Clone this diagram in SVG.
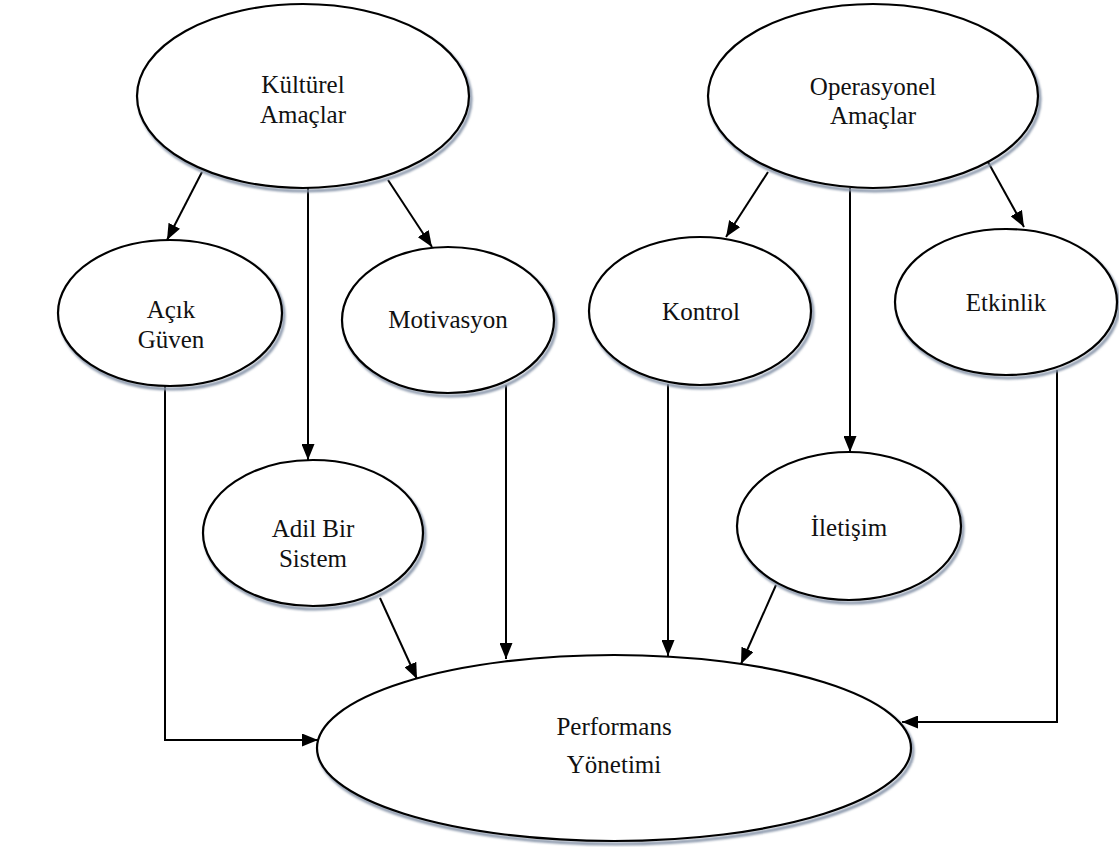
<svg xmlns="http://www.w3.org/2000/svg" width="1119" height="847" viewBox="0 0 1119 847">
  <defs>
    <marker id="arrow" viewBox="0 0 16 13" refX="16" refY="6.5" markerWidth="16" markerHeight="13" markerUnits="userSpaceOnUse" orient="auto">
      <path d="M0,0 L16,6.5 L0,13 Z" fill="#000"/>
    </marker>
    <filter id="soft" x="-10%" y="-10%" width="120%" height="120%">
      <feGaussianBlur stdDeviation="1"/>
    </filter>
  </defs>
  <style>
    .shadow { fill: none; stroke: #8a97ab; stroke-width: 3; filter: url(#soft); }
    .node { fill: #fff; stroke: #000; stroke-width: 2.2; }
    .label { font-family: "Liberation Serif", "Times New Roman", serif; font-size: 25px; fill: #111; text-anchor: middle; }
    .edge { fill: none; stroke: #000; stroke-width: 2; marker-end: url(#arrow); }
  </style>
  <rect width="1119" height="847" fill="#fff"/>

  <!-- connectors -->
  <g id="connectors">
    <line class="edge" x1="202" y1="172" x2="167" y2="240"/>
    <line class="edge" x1="308" y1="188" x2="308" y2="460"/>
    <line class="edge" x1="388" y1="180" x2="432" y2="247"/>
    <line class="edge" x1="768" y1="172" x2="726" y2="237"/>
    <line class="edge" x1="850" y1="188" x2="850" y2="452"/>
    <line class="edge" x1="988" y1="162" x2="1024" y2="227"/>
    <polyline class="edge" points="165,385 165,740 318,740"/>
    <line class="edge" x1="380" y1="598" x2="417" y2="679"/>
    <line class="edge" x1="506" y1="385" x2="506" y2="659"/>
    <line class="edge" x1="668" y1="384" x2="668" y2="656"/>
    <line class="edge" x1="776" y1="585" x2="741" y2="664"/>
    <polyline class="edge" points="1057,370 1057,722 902,722"/>
  </g>

  <g id="kulturel-amaclar">
    <ellipse class="shadow" cx="305" cy="99" rx="166" ry="92"/>
    <ellipse class="node" cx="303" cy="96" rx="166" ry="92"/>
    <text class="label" x="303" y="93">Kültürel</text>
    <text class="label" x="303" y="123">Amaçlar</text>
  </g>

  <g id="operasyonel-amaclar">
    <ellipse class="shadow" cx="875" cy="99" rx="165" ry="92"/>
    <ellipse class="node" cx="873" cy="96" rx="165" ry="92"/>
    <text class="label" x="873" y="95">Operasyonel</text>
    <text class="label" x="873" y="124">Amaçlar</text>
  </g>

  <g id="acik-guven">
    <ellipse class="shadow" cx="172" cy="316" rx="112" ry="73"/>
    <ellipse class="node" cx="170" cy="313" rx="112" ry="73"/>
    <text class="label" x="171" y="318">Açık</text>
    <text class="label" x="171" y="348">Güven</text>
  </g>

  <g id="motivasyon">
    <ellipse class="shadow" cx="450" cy="323" rx="106" ry="73"/>
    <ellipse class="node" cx="448" cy="320" rx="106" ry="73"/>
    <text class="label" x="448" y="328">Motivasyon</text>
  </g>

  <g id="kontrol">
    <ellipse class="shadow" cx="702" cy="314" rx="111" ry="74"/>
    <ellipse class="node" cx="700" cy="311" rx="111" ry="74"/>
    <text class="label" x="701" y="320">Kontrol</text>
  </g>

  <g id="etkinlik">
    <ellipse class="shadow" cx="1008" cy="305" rx="111" ry="73"/>
    <ellipse class="node" cx="1006" cy="302" rx="111" ry="73"/>
    <text class="label" x="1006" y="311">Etkinlik</text>
  </g>

  <g id="adil-bir-sistem">
    <ellipse class="shadow" cx="315" cy="536" rx="110" ry="73"/>
    <ellipse class="node" cx="313" cy="533" rx="110" ry="73"/>
    <text class="label" x="313" y="537">Adil Bir</text>
    <text class="label" x="313" y="567">Sistem</text>
  </g>

  <g id="iletisim">
    <ellipse class="shadow" cx="851" cy="529" rx="112" ry="74"/>
    <ellipse class="node" cx="849" cy="526" rx="112" ry="74"/>
    <text class="label" x="849" y="536">İletişim</text>
  </g>

  <g id="performans-yonetimi">
    <ellipse class="shadow" cx="616" cy="751" rx="297" ry="93"/>
    <ellipse class="node" cx="614" cy="748" rx="297" ry="93"/>
    <text class="label" x="614" y="735">Performans</text>
    <text class="label" x="614" y="773">Yönetimi</text>
  </g>
</svg>
